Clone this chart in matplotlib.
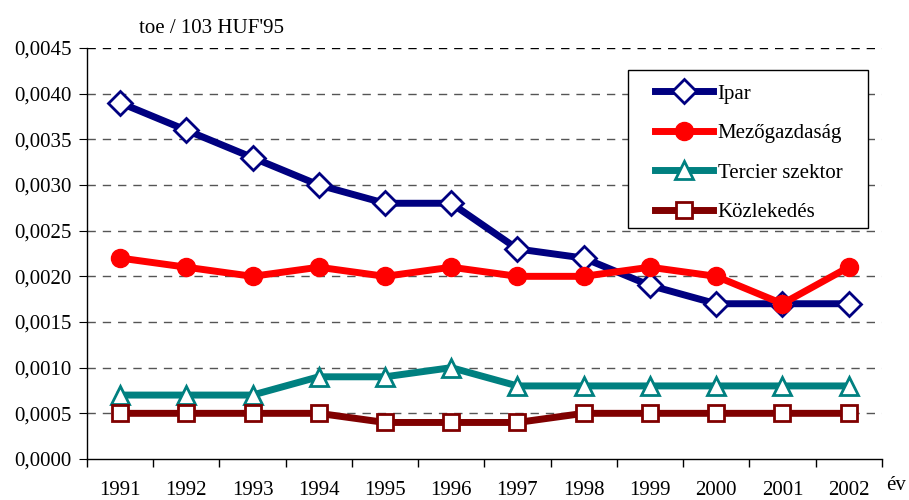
import numpy as np
import matplotlib.pyplot as plt
from matplotlib.patches import Rectangle
from matplotlib.ticker import FixedLocator, FuncFormatter

plt.rcParams['font.family'] = ['Liberation Serif', 'DejaVu Serif']

# adatok
evek = ['1991', '1992', '1993', '1994', '1995', '1996', '1997', '1998',
        '1999', '2000', '2001', '2002']
ipar = [0.0039, 0.0036, 0.0033, 0.0030, 0.0028, 0.0028, 0.0023, 0.0022,
        0.0019, 0.0017, 0.0017, 0.0017]
mezogazdasag = [0.0022, 0.0021, 0.0020, 0.0021, 0.0020, 0.0021, 0.0020,
                0.0020, 0.0021, 0.0020, 0.0017, 0.0021]
tercier = [0.0007, 0.0007, 0.0007, 0.0009, 0.0009, 0.0010, 0.0008, 0.0008,
           0.0008, 0.0008, 0.0008, 0.0008]
kozlekedes = [0.0005, 0.0005, 0.0005, 0.0005, 0.0004, 0.0004, 0.0004,
              0.0005, 0.0005, 0.0005, 0.0005, 0.0005]

x = np.arange(len(evek))
fs = 15
W, H = 909, 500

fig = plt.figure(figsize=(9.09, 5.0), dpi=100)
ax = fig.add_axes([0.0957, 0.082, 0.8743, 0.822])

ax.plot(x, ipar, color='#000080', lw=5, marker='D', ms=12,
        mfc='white', mec='#000080', mew=2, label='Ipar', zorder=3)
ax.plot(x, mezogazdasag, color='#FF0000', lw=5, marker='o', ms=13,
        mfc='#FF0000', mec='#FF0000', label='Mezőgazdaság', zorder=3)
ax.plot(x, tercier, color='#008080', lw=5, marker='^', ms=13,
        mfc='white', mec='#008080', mew=2, label='Tercier szektor', zorder=3)
ax.plot(x, kozlekedes, color='#800000', lw=5, marker='s', ms=12,
        mfc='white', mec='#800000', mew=2, label='Közlekedés', zorder=3)

ax.set_xlim(-0.5, 11.5)
ax.set_ylim(0, 0.0045)
ax.set_yticks(np.arange(0, 0.00451, 0.0005))
ax.yaxis.set_major_formatter(FuncFormatter(lambda v, p: f'{v:.4f}'.replace('.', ',')))
ax.set_xticks(x)
ax.set_xticklabels(evek)
ax.xaxis.set_minor_locator(FixedLocator(np.arange(-0.5, 11.6, 1)))
ax.tick_params(axis='x', which='major', length=0, pad=16, labelsize=fs)
ax.tick_params(axis='x', which='minor', length=6, direction='out', width=1)
ax.tick_params(axis='y', length=6, direction='out', labelsize=fs, pad=5)

for v in np.arange(0.0005, 0.00451, 0.0005):
    ax.axhline(v, color='#555555' if v < 0.0044 else 'black', lw=1,
               ls=(0, (6, 5)), zorder=1)

for s in ['top', 'right']:
    ax.spines[s].set_visible(False)
ax.spines['left'].set_linewidth(1)
ax.spines['bottom'].set_linewidth(1)

# jelmagyarázat keret nélkül + külön téglalap
leg = fig.legend(loc='upper left', bbox_to_anchor=(655 / W, 1 - 84 / H),
                 frameon=False, fontsize=fs, borderpad=0, borderaxespad=0,
                 labelspacing=0.96, handlelength=2.8, handletextpad=0.2)
fig.patches.append(Rectangle((628 / W, 1 - 228 / H), 240 / W, 158 / H,
                             transform=fig.transFigure, fill=True,
                             facecolor='white', edgecolor='black', lw=1,
                             zorder=4))
leg.set_zorder(5)

fig.text(0.153, 1 - 33 / H, "toe / 103 HUF'95", fontsize=fs, ha='left', va='baseline')
fig.text(0.975, 1 - 490 / H, 'év', fontsize=fs, ha='left', va='baseline')

fig.savefig('out.png', dpi=100)
